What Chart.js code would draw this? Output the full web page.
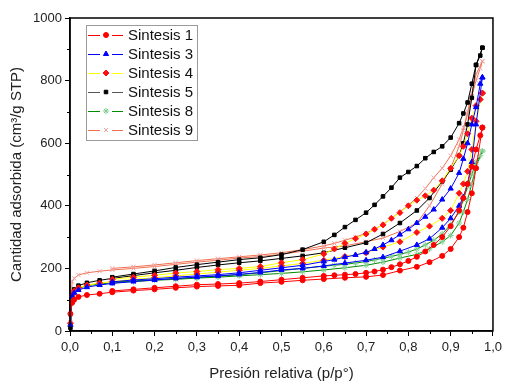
<!DOCTYPE html>
<html><head><meta charset="utf-8">
<script src="https://cdn.jsdelivr.net/npm/chart.js@4/dist/chart.umd.min.js"></script>
<style>html,body{margin:0;padding:0;background:#fff}#wrap{width:506px;height:383px}</style>
</head><body><div id="wrap"><canvas id="c" width="506" height="383"></canvas></div>
<script>
// Relative pressure grids (adsorption ascending, desorption descending)
const pAds = [0.001,0.005,0.01,0.02,0.04,0.07,0.1,0.15,0.2,0.25,0.3,0.35,0.4,0.45,0.5,0.55,0.6,0.65,0.7,0.74,0.78,0.82,0.85,0.88,0.9,0.92,0.93,0.94,0.95,0.96,0.975];
const pDes = [0.975,0.97,0.96,0.95,0.94,0.93,0.92,0.9,0.88,0.86,0.84,0.82,0.8,0.78,0.76,0.74,0.72,0.7,0.675,0.65,0.625,0.6,0.55,0.5,0.45,0.4,0.35,0.3,0.25,0.2,0.15,0.1];

const seriesNames = ["Sintesis 1","Sintesis 3","Sintesis 4","Sintesis 5","Sintesis 8","Sintesis 9"];

const s1Ads = [55,90,100,109,115,119,124,129,133,138,142,144,146,153,157,162,166,170,173,179,193,205,220,240,262,300,330,380,440,520,650];
const s1Des = [650,625,580,525,470,425,385,335,300,275,254,237,224,213,204,196,190,186,182,180,178,176,170,164,158,153,150,148,143,138,133,128];
const s3Ads = [20,110,122,131,140,147,152,158,163,168,172,176,181,187,195,200,208,217,226,236,255,275,295,330,360,400,428,470,540,660,810];
const s3Des = [810,790,715,660,600,550,505,455,420,388,365,345,325,308,290,275,262,251,243,236,228,222,210,202,194,186,180,176,172,167,163,157];
const s4Ads = [25,115,128,138,147,153,158,165,170,176,182,188,194,200,208,216,226,238,250,268,285,315,335,360,385,440,470,510,580,670,760];
const s4Des = [760,740,720,680,630,590,560,520,480,450,432,418,400,378,360,339,325,310,295,280,262,246,228,218,206,200,196,190,185,178,172,165];
const s5Ads = [10,115,133,145,154,162,168,177,186,194,203,211,218,224,232,240,250,266,282,310,345,385,425,478,515,560,600,660,745,850,905];
const s5Des = [905,880,850,790,730,695,664,618,590,572,552,527,508,490,458,430,403,378,355,332,307,285,260,244,234,228,220,212,203,192,182,172];
const s8Ads = [15,110,125,136,145,150,154,158,162,165,169,172,176,180,184,189,195,202,210,220,233,245,262,285,305,345,380,420,470,525,575];
const s8Des = [575,560,540,500,460,420,380,340,310,290,275,262,252,245,238,233,227,222,217,213,210,207,200,193,186,180,175,171,167,164,160,156];
const s9Ads = [40,158,168,179,186,191,195,200,206,213,220,226,233,238,245,255,265,272,285,297,318,345,400,470,520,590,640,700,760,820,862];
const s9Des = [862,840,800,750,690,650,612,560,520,490,455,425,402,380,360,340,325,312,300,290,280,272,260,250,243,237,231,225,218,211,205,200];

const xTicks = [0,0.1,0.2,0.3,0.4,0.5,0.6,0.7,0.8,0.9,1.0];
const yTicks = [0,200,400,600,800,1000];

function loop(ads, des){
  return pAds.map((x,i)=>({x:x,y:ads[i]})).concat(pDes.map((x,i)=>({x:x,y:des[i]})));
}

const styles = [
  {line:'#ff0000', pt:'#ff0000', shape:'circle', r:2.5},
  {line:'#0000ff', pt:'#0000ff', shape:'triangle', r:3},
  {line:'#ffff00', pt:'#ff1010', shape:'rectRot', r:3},
  {line:'#000000', pt:'#000000', shape:'rect', r:2.5},
  {line:'#008a00', pt:'#7fcf8f', shape:'star', r:3},
  {line:'#f07050', pt:'#f0a0a0', shape:'crossRot', r:3}
];
const loops = [loop(s1Ads,s1Des),loop(s3Ads,s3Des),loop(s4Ads,s4Des),loop(s5Ads,s5Des),loop(s8Ads,s8Des),loop(s9Ads,s9Des)];

const datasets = seriesNames.map((n,i)=>({
  label:n, data:loops[i], showLine:true, borderColor:styles[i].line, borderWidth:1,
  pointStyle:styles[i].shape, pointRadius:styles[i].r, pointBackgroundColor:styles[i].pt,
  pointBorderColor:styles[i].pt, pointBorderWidth:1, tension:0, clip:6
}));

const frame = {
  id:'frame',
  afterDraw(chart){
    const {ctx, chartArea:a, scales:{x, y}} = chart;
    ctx.save();
    ctx.strokeStyle='#000'; ctx.lineWidth=1.5;
    ctx.strokeRect(a.left, a.top, a.right-a.left, a.bottom-a.top);
    ctx.lineWidth=1;
    ctx.beginPath();
    for (let k=0;k<10;k++){ const px=Math.round(x.getPixelForValue(0.05+0.1*k))+0.5; ctx.moveTo(px,a.bottom); ctx.lineTo(px,a.bottom+3); }
    for (let k=0;k<5;k++){ const py=Math.round(y.getPixelForValue(100+200*k))+0.5; ctx.moveTo(a.left,py); ctx.lineTo(a.left-3,py); }
    ctx.stroke();
    // legend
    const lx=86, ly=25, lw=111, lh=115;
    ctx.fillStyle='#fff'; ctx.fillRect(lx,ly,lw,lh);
    ctx.strokeStyle='#9a9a9a'; ctx.lineWidth=1; ctx.strokeRect(lx+0.5,ly+0.5,lw,lh);
    ctx.font='15px "Liberation Sans", Arial, sans-serif'; ctx.textBaseline='middle'; ctx.textAlign='left';
    seriesNames.forEach((n,i)=>{
      const cy=35+i*19;
      const st=styles[i];
      ctx.strokeStyle = i===3 ? '#555' : st.line; ctx.lineWidth=1.2;
      ctx.beginPath(); ctx.moveTo(88,cy+0.5); ctx.lineTo(100,cy+0.5); ctx.moveTo(112,cy+0.5); ctx.lineTo(123,cy+0.5); ctx.stroke();
      ctx.fillStyle=st.pt; ctx.strokeStyle=st.pt; ctx.lineWidth=1;
      Chart.helpers.drawPoint(ctx,{pointStyle:st.shape, radius:st.r, borderWidth:1, rotation:0}, 106, cy);
      ctx.fillStyle='#111';
      ctx.fillText(n,128,cy+1);
    });
    ctx.restore();
  }
};

const tickFont = {family:'"Liberation Sans", Arial, sans-serif', size:13};
const titleFont = {family:'"Liberation Sans", Arial, sans-serif', size:15};

new Chart(document.getElementById('c'), {
  type:'scatter',
  data:{datasets},
  options:{
    responsive:false, devicePixelRatio:1, animation:false,
    layout:{padding:{top:18,right:9,left:0,bottom:0}},
    plugins:{legend:{display:false}, tooltip:{enabled:false}},
    scales:{
      x:{type:'linear', min:0, max:1,
        afterBuildTicks(s){ s.ticks = xTicks.map(v=>({value:v})); },
        ticks:{color:'#222', font:tickFont, padding:4, maxRotation:0, autoSkip:false,
          callback:v=>v.toFixed(1).replace('.',',')},
        grid:{display:true, drawOnChartArea:false, drawTicks:true, tickLength:5, color:'#000'},
        border:{display:true, color:'#000', width:1.5},
        title:{display:true, text:'Presión relativa (p/p°)', color:'#222', font:titleFont, padding:{top:0,bottom:0}},
        afterFit(s){ s.height=52; }
      },
      y:{type:'linear', min:0, max:1000,
        afterBuildTicks(s){ s.ticks = yTicks.map(v=>({value:v})); },
        ticks:{color:'#222', font:tickFont, padding:3, callback:v=>String(v)},
        grid:{display:true, drawOnChartArea:false, drawTicks:true, tickLength:5, color:'#000'},
        border:{display:true, color:'#000', width:1.5},
        title:{display:true, text:'Cantidad adsorbida (cm³/g STP)', color:'#222', font:titleFont, padding:{top:8,bottom:0}},
        afterFit(s){ s.width=70; }
      }
    }
  },
  plugins:[frame]
});
</script></body></html>
